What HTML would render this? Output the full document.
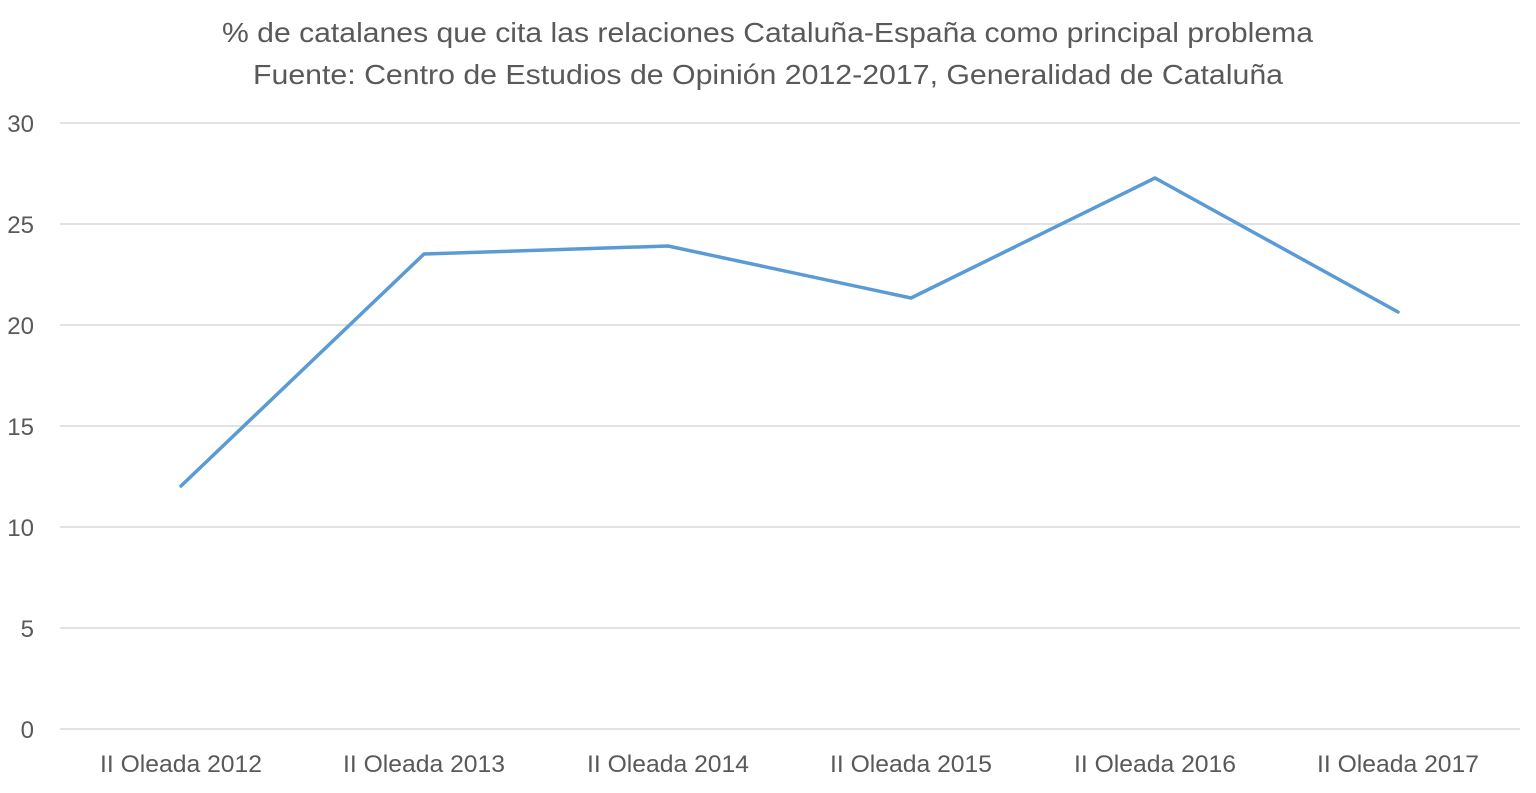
<!DOCTYPE html>
<html><head><meta charset="utf-8"><style>
html,body{margin:0;padding:0;background:#fff;}
svg{display:block;font-family:"Liberation Sans",sans-serif;}
</style></head><body>
<svg width="1536" height="793" viewBox="0 0 1536 793">
<text x="222" y="42" font-size="28" fill="#595959" textLength="1091" lengthAdjust="spacingAndGlyphs">% de catalanes que cita las relaciones Cataluña-España como principal problema</text>
<text x="253" y="84" font-size="28" fill="#595959" textLength="1030" lengthAdjust="spacingAndGlyphs">Fuente: Centro de Estudios de Opinión 2012-2017, Generalidad de Cataluña</text>
<g stroke="#d9d9d9" stroke-width="1.5">
<line x1="60" y1="123" x2="1520" y2="123"/>
<line x1="60" y1="224" x2="1520" y2="224"/>
<line x1="60" y1="325" x2="1520" y2="325"/>
<line x1="60" y1="426" x2="1520" y2="426"/>
<line x1="60" y1="527" x2="1520" y2="527"/>
<line x1="60" y1="628" x2="1520" y2="628"/>
<line x1="60" y1="729" x2="1520" y2="729"/>
</g>
<g font-size="24" fill="#595959" text-anchor="end">
<text x="34" y="132">30</text>
<text x="34" y="233">25</text>
<text x="34" y="334">20</text>
<text x="34" y="435">15</text>
<text x="34" y="536">10</text>
<text x="34" y="637">5</text>
<text x="34" y="738">0</text>
</g>
<g font-size="24" fill="#595959">
<text x="100" y="772" textLength="162" lengthAdjust="spacingAndGlyphs">II Oleada 2012</text>
<text x="343" y="772" textLength="162" lengthAdjust="spacingAndGlyphs">II Oleada 2013</text>
<text x="587" y="772" textLength="162" lengthAdjust="spacingAndGlyphs">II Oleada 2014</text>
<text x="830" y="772" textLength="162" lengthAdjust="spacingAndGlyphs">II Oleada 2015</text>
<text x="1074" y="772" textLength="162" lengthAdjust="spacingAndGlyphs">II Oleada 2016</text>
<text x="1317" y="772" textLength="162" lengthAdjust="spacingAndGlyphs">II Oleada 2017</text>
</g>
<polyline points="181,486 424,254 668,246 911,298 1155,178 1398,312" fill="none" stroke="#5b9bd5" stroke-width="3.5" stroke-linejoin="round" stroke-linecap="round"/>
</svg>
</body></html>
